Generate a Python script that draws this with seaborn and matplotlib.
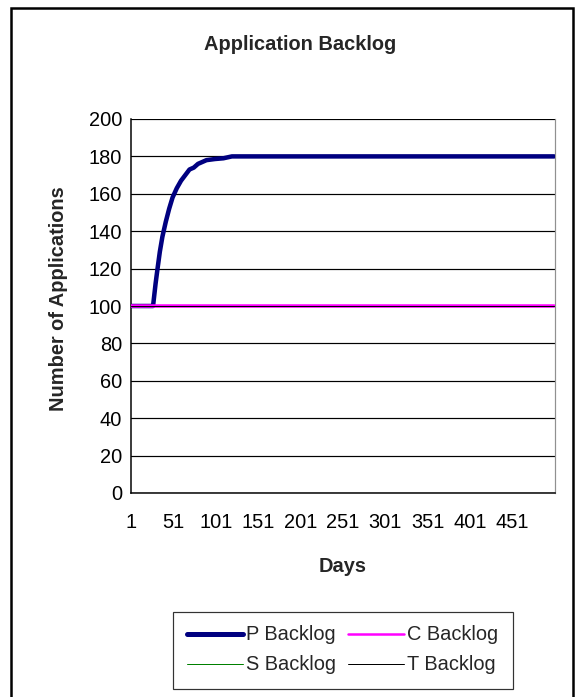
import matplotlib
matplotlib.use("Agg")
import matplotlib.pyplot as plt
import seaborn as sns
import pandas as pd
from matplotlib.patches import Rectangle
from matplotlib.lines import Line2D

# ---- data ----
p_days = [1, 27, 28, 30, 32, 35, 38, 42, 46, 50, 55, 60, 65, 70, 75, 80, 85, 90, 100, 110, 120, 500]
p_values = [100, 100, 104, 112, 119, 129, 137, 145, 152, 158, 163, 167, 170, 173, 174, 176, 177, 178, 178.6, 179, 180, 180]
flat_days = [1, 500]
c_values = [100, 100]
s_values = [100, 100]
t_values = [100, 100]
x_ticks = [1, 51, 101, 151, 201, 251, 301, 351, 401, 451, 501]
x_tick_labels = ["1", "51", "101", "151", "201", "251", "301", "351", "401", "451", ""]
y_ticks = [0, 20, 40, 60, 80, 100, 120, 140, 160, 180, 200]

sns.set_theme(style="white")
plt.rcParams['font.family'] = ['Liberation Sans', 'DejaVu Sans']

FS = 20

fig = plt.figure(figsize=(576/72, 697/72), dpi=72)
ax = fig.add_axes([131/576, 1-493/697, (555-131)/576, (493-119)/697])

dfp = pd.DataFrame({"Day": p_days, "Value": p_values})
dfc = pd.DataFrame({"Day": flat_days, "Value": c_values})
dfs = pd.DataFrame({"Day": flat_days, "Value": s_values})
dft = pd.DataFrame({"Day": flat_days, "Value": t_values})

sns.lineplot(data=dfp, x="Day", y="Value", ax=ax, color="#000080", linewidth=4.5,
             solid_capstyle="round", solid_joinstyle="round", zorder=3)
sns.lineplot(data=dfc, x="Day", y="Value", ax=ax, color="#FF00FF", linewidth=3.5, zorder=4)
sns.lineplot(data=dfs, x="Day", y="Value", ax=ax, color="#008000", linewidth=0.8, zorder=5)
sns.lineplot(data=dft, x="Day", y="Value", ax=ax, color="#000000", linewidth=1.0, zorder=6)

ax.set_xlim(1, 501)
ax.set_ylim(0, 200)
ax.set_yticks(y_ticks)
ax.set_xticks(x_ticks)
ax.set_xticklabels(x_tick_labels)
ax.tick_params(axis="both", labelsize=FS, colors="black", length=5, width=1.2, direction="out")
ax.tick_params(axis="y", pad=4)
ax.tick_params(axis="x", pad=15)
ax.grid(axis="y", color="black", linewidth=1.2)
ax.set_axisbelow(True)
for side in ["left", "bottom"]:
    ax.spines[side].set_color("black")
    ax.spines[side].set_linewidth(1.5)
ax.spines["top"].set_visible(False)
ax.spines["right"].set_color("#909090")
ax.spines["right"].set_linewidth(1.2)

ax.set_xlabel("Days", fontsize=FS, fontweight="bold", labelpad=25)
ax.set_ylabel("Number of Applications", fontsize=FS, fontweight="bold", labelpad=20)
ax.yaxis.label.set_y(0.52)
fig.text(300/576, 1-44/697, "Application Backlog", ha="center", va="center",
         fontsize=FS, fontweight="bold")

handles = [
    Line2D([], [], color="#000080", linewidth=5, solid_capstyle="round"),
    Line2D([], [], color="#008000", linewidth=1),
    Line2D([], [], color="#FF00FF", linewidth=2.5),
    Line2D([], [], color="#000000", linewidth=1),
]
labels = ["P Backlog", "S Backlog", "C Backlog", "T Backlog"]
leg = fig.legend(handles, labels, ncol=2, loc="center", bbox_to_anchor=(343/576, 1-650/697),
                 fontsize=FS, frameon=True, fancybox=False, edgecolor="black",
                 handlelength=2.8, handletextpad=0.15, columnspacing=0.6, borderpad=0.7,
                 labelspacing=0.55)
leg.get_frame().set_linewidth(1.2)

fig.patches.append(Rectangle((11/576, -0.01), (573-11)/576, 1.01-8/697, transform=fig.transFigure,
                             fill=False, edgecolor="black", linewidth=2.5))

fig.savefig("out.png", dpi=72)
